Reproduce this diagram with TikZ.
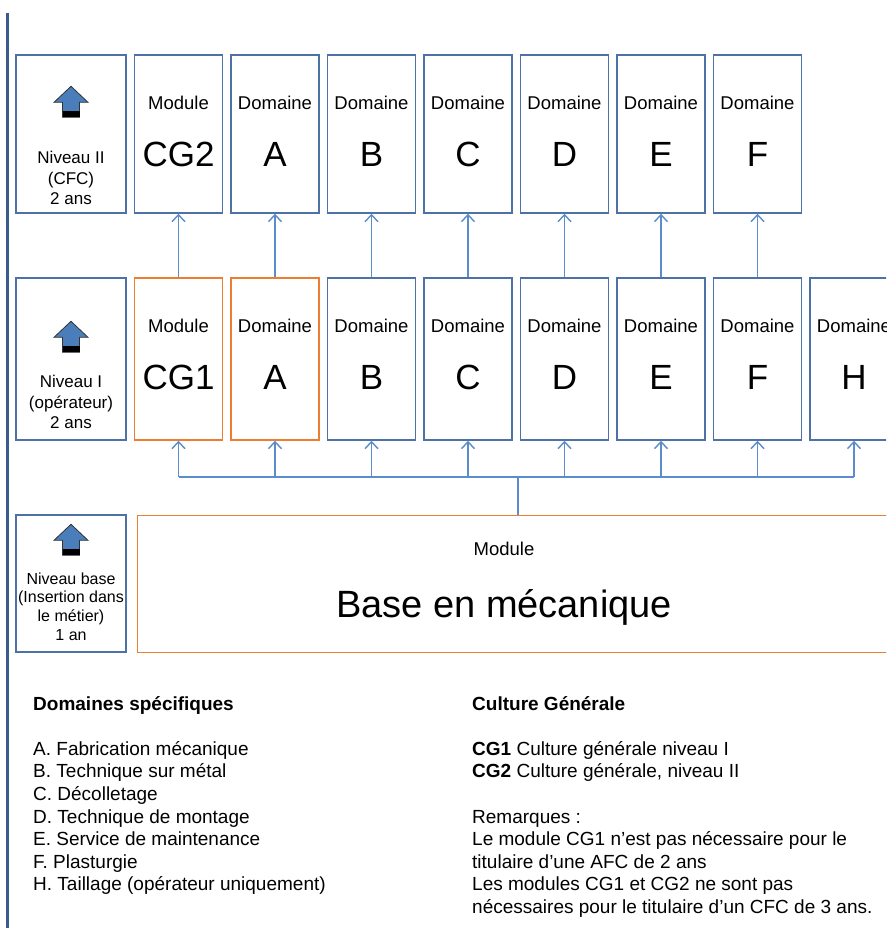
\documentclass[tikz,border=0pt]{standalone}
\usepackage{fontspec}
\setmainfont{Liberation Sans}
\usetikzlibrary{arrows.meta,positioning,calc}

\definecolor{boxblue}{HTML}{4F72A6}
\definecolor{boxorange}{HTML}{ED7D31}
\definecolor{linkblue}{HTML}{5B8CCB}
\definecolor{rulenavy}{HTML}{3A5C8A}
\definecolor{iconblue}{HTML}{4A7EBB}

\begin{document}
\begin{tikzpicture}[
    x=1pt, y=-1pt,
    box/.style={draw=boxblue, line width=1.4pt, minimum width=88pt, inner sep=0pt},
    topbox/.style={box, minimum height=158pt},
    midbox/.style={box, minimum height=162pt},
    levelbox/.style={box, minimum width=110pt},
    small/.style={font=\fontsize{18.5}{22}\selectfont, inner sep=0pt},
    big/.style={font=\fontsize{35}{40}\selectfont, inner sep=0pt},
    levellabel/.style={align=center, anchor=north, inner sep=0pt, font=\fontsize{17}{20.5}\selectfont},
    link/.style={draw=linkblue, line width=1.4pt, -{Straight Barb[length=7pt,width=13pt,line width=1.4pt]}},
    bus/.style={draw=linkblue, line width=1.4pt},
    notes/.style={align=left, anchor=north west, inner sep=0pt, font=\fontsize{19}{22.6}\selectfont},
    uparrow/.pic={
      \filldraw[fill=iconblue, draw=black!80, line width=0.8pt] (0,0) -- (17,16) -- (8.5,16) -- (8.5,31)
        -- (-8.5,31) -- (-8.5,16) -- (-17,16) -- cycle;
      \fill[black] (-8.5,25) rectangle (8.5,31);
    }
  ]
  \useasboundingbox (0,0) rectangle (886,928);
  \clip (0,0) rectangle (886,928);

  % rule on the left margin
  \draw[rulenavy, line width=3pt] (7.5,13) -- (7.5,928);

  % levels
  \node[levelbox, minimum height=158pt] (lv2) at (71,134) {};
  \pic at ($(lv2.north)+(0,32)$) {uparrow};
  \node[levellabel] (lv2-t) at ($(lv2.north)+(0,97)$) {Niveau II\\(CFC)\\2 ans};

  \node[levelbox, minimum height=162pt] (lv1) at (71,359) {};
  \pic at ($(lv1.north)+(0,44)$) {uparrow};
  \node[levellabel] (lv1-t) at ($(lv1.north)+(0,98)$) {Niveau I\\(opérateur)\\2 ans};

  \node[levelbox, minimum height=137pt] (lv0) at (71,583.5) {};
  \pic at ($(lv0.north)+(0,10)$) {uparrow};
  \node[levellabel, font=\fontsize{16}{18.8}\selectfont] (lv0-t) at ($(lv0.north)+(0,58)$)
    {Niveau base\\(Insertion dans\\le métier)\\1 an};

  % niveau II
  \foreach \txt/\sym [count=\i] in {Module/CG2, Domaine/A, Domaine/B, Domaine/C,
      Domaine/D, Domaine/E, Domaine/F} {
    \node[topbox] (t\i) at ({178.5+96.5*(\i-1)},134) {};
    \node[small, anchor=base] (t\i-h) at ($(t\i.north)+(0,55)$) {\txt};
    \node[big, anchor=base] (t\i-b) at ($(t\i.north)+(0,112.5)$) {\sym};
  }

  % niveau I
  \foreach \txt/\sym/\col [count=\i] in {Module/CG1/boxorange, Domaine/A/boxorange,
      Domaine/B/boxblue, Domaine/C/boxblue, Domaine/D/boxblue, Domaine/E/boxblue,
      Domaine/F/boxblue, Domaine/H/boxblue} {
    \node[midbox, draw=\col] (m\i) at ({178.5+96.5*(\i-1)},359) {};
    \node[small, anchor=base] (m\i-h) at ($(m\i.north)+(0,55)$) {\txt};
    \node[big, anchor=base] (m\i-b) at ($(m\i.north)+(0,112.5)$) {\sym};
  }

  % niveau base
  \node[box, draw=boxorange, minimum width=763pt, minimum height=137pt, anchor=north west] (base) at (137,515) {};
  \node[small, anchor=base] (base-h) at (504,555.5) {Module};
  \node[inner sep=0pt, anchor=base, font=\fontsize{38}{44}\selectfont] (base-b) at (504,617.5) {Base en mécanique};

  % connectors
  \foreach \i in {1,...,7}
    \draw[link] (m\i.north) -- (t\i.south);
  \coordinate (hub) at (518,477);
  \draw[bus] (base.north -| hub) -- (hub);
  \draw[bus] (m1.south |- hub) -- (m8.south |- hub);
  \foreach \i in {1,...,8}
    \draw[link] (m\i.south |- hub) -- (m\i.south);

  % legend
  \node[notes] (dom) at (33,696) {\textbf{Domaines spécifiques}\\[22.6pt]
    A. Fabrication mécanique\\
    B. Technique sur métal\\
    C. Décolletage\\
    D. Technique de montage\\
    E. Service de maintenance\\
    F. Plasturgie\\
    H. Taillage (opérateur uniquement)};
  \node[notes] (cg) at (472,696) {\textbf{Culture Générale}\\[22.6pt]
    \textbf{CG1} Culture générale niveau I\\
    \textbf{CG2} Culture générale, niveau II\\[22.6pt]
    Remarques :\\
    Le module CG1 n’est pas nécessaire pour le\\
    titulaire d’une AFC de 2 ans\\
    Les modules CG1 et CG2 ne sont pas\\
    nécessaires pour le titulaire d’un CFC de 3 ans.};
\end{tikzpicture}
\end{document}
